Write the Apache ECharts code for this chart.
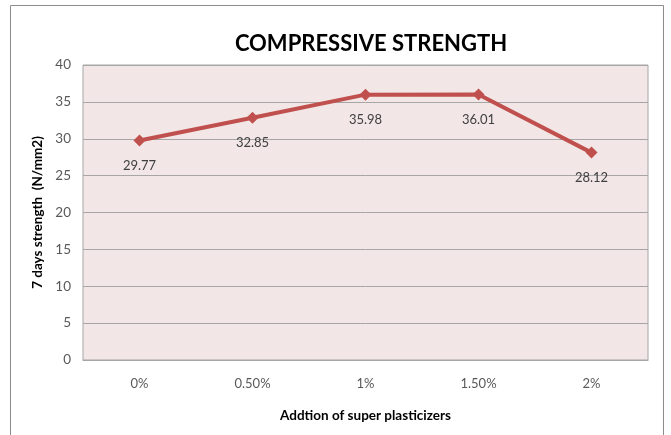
<!DOCTYPE html>
<html>
<head>
<meta charset="utf-8">
<script src="https://cdn.jsdelivr.net/npm/echarts@6/dist/echarts.min.js"></script>
<style>
  html, body { margin: 0; padding: 0; background: #ffffff; }
  #chart { width: 671px; height: 435px; }
</style>
</head>
<body>
<div id="chart"></div>
<script>
// Superplasticizer dosage and 7-day compressive strength (N/mm2)
const categories = ['0%', '0.50%', '1%', '1.50%', '2%'];
const strength = [29.77, 32.85, 35.98, 36.01, 28.12];

const chart = echarts.init(document.getElementById('chart'));
const font = 'Lato, "Open Sans", sans-serif';

chart.setOption({
  animation: false,
  backgroundColor: '#ffffff',
  textStyle: { fontFamily: font },
  title: {
    text: 'COMPRESSIVE STRENGTH',
    left: 366,
    top: 28,
    textAlign: 'center',
    textStyle: { fontFamily: font, fontSize: 22, fontWeight: 'bold', color: '#000000' }
  },
  graphic: [{
    type: 'rect',
    shape: { x: 10.5, y: 5.5, width: 653, height: 440 },
    style: { fill: 'none', stroke: '#8c8c8c', lineWidth: 1 },
    silent: true
  }],
  grid: {
    left: 83, top: 65, width: 565, height: 295,
    show: true,
    backgroundColor: '#f2e6e6',
    borderColor: '#a6a6a6',
    borderWidth: 1
  },
  xAxis: {
    type: 'category',
    data: categories,
    boundaryGap: true,
    name: 'Addtion of super plasticizers',
    nameLocation: 'middle',
    nameGap: 49,
    nameTextStyle: { fontFamily: font, fontSize: 13.5, fontWeight: 'bold', color: '#000000' },
    axisLine: { show: true, lineStyle: { color: '#a6a6a6' } },
    axisTick: { show: false },
    axisLabel: { margin: 17, fontSize: 13, color: '#595959', fontFamily: font }
  },
  yAxis: {
    type: 'value',
    min: 0, max: 40, interval: 5,
    name: '7 days strength  (N/mm2)',
    nameLocation: 'middle',
    nameGap: 38,
    nameRotate: 90,
    nameTextStyle: { fontFamily: font, fontSize: 13.5, fontWeight: 'bold', color: '#000000' },
    axisLine: { show: false },
    axisTick: { show: false },
    axisLabel: { margin: 12, fontSize: 13.5, color: '#595959', fontFamily: font },
    splitLine: { show: true, lineStyle: { color: '#a6a6a6', width: 1 } }
  },
  series: [{
    type: 'line',
    data: strength,
    symbol: 'diamond',
    symbolSize: 12,
    lineStyle: { color: '#c0504d', width: 4 },
    itemStyle: { color: '#c0504d' },
    label: {
      show: true,
      position: 'bottom',
      distance: 13,
      fontSize: 13,
      color: '#404040',
      fontFamily: font,
      formatter: p => p.value.toFixed(2)
    }
  }]
});
</script>
</body>
</html>
